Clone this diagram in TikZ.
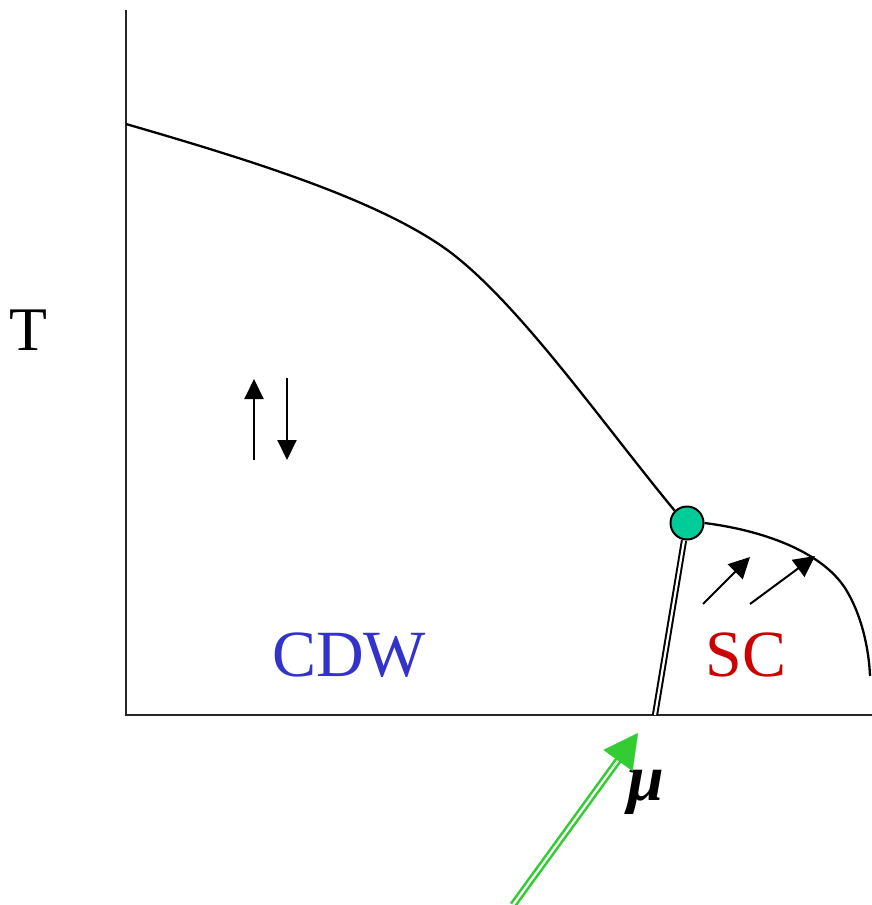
\documentclass[tikz,border=0pt]{standalone}
\usepackage{fontspec}
\setmainfont{Liberation Serif}
\usetikzlibrary{arrows.meta,calc}
\definecolor{cdwblue}{HTML}{3333CC}
\definecolor{scred}{HTML}{CC0000}
\definecolor{pointgreen}{HTML}{00CC99}
\definecolor{arrgreen}{HTML}{33CC33}
\tikzset{
  axis/.style={line width=2pt, draw=black!85},
  phase/.style={line width=2.3pt},
  spinarrow/.style={line width=2pt, -{Triangle[length=20pt,width=19pt]}},
  pairarrow/.style={line width=2pt, -{Triangle[length=21pt,width=21pt]}},
  lbl/.style={inner sep=0pt, font=\fontsize{66}{66}\selectfont},
}
\begin{document}
\begin{tikzpicture}[x=1pt,y=-1pt]
\useasboundingbox (0,0) rectangle (872,905);
% axes
\coordinate (ytop) at (126,10);
\coordinate (orig) at (126,715);
\coordinate (xend) at (872,715);
\draw[axis] (ytop) -- (orig) -- (xend);
% critical point
\node[circle, draw=black, line width=2pt, fill=pointgreen, minimum size=33pt, inner sep=0pt] (cp) at (687,523) {};
% CDW boundary
\coordinate (tcdw) at (126,124);
\draw[phase] (tcdw) .. controls (250,160) and (380,200) .. (450,252) .. controls (520,305) and (600,420) .. (cp.north west);
% SC boundary
\coordinate (scend) at (870,676);
\draw[phase] (cp.east) .. controls (760,530) and (820,550) .. (845,588) .. controls (862,615) and (869,650) .. (scend);
% first-order line (double)
\coordinate (fbot) at (655,715);
\draw[draw=black, line width=2pt, double=white, double distance=2.2pt] (cp.south) ++(-3,0) -- (fbot);
% spin arrows
\coordinate (u1) at (254,460); \coordinate (u2) at (254,379);
\coordinate (d1) at (287,378); \coordinate (d2) at (287,460);
\draw[spinarrow] (u1) -- (u2);
\draw[spinarrow] (d1) -- (d2);
% pair arrows
\coordinate (p1a) at (703,604); \coordinate (p1b) at (750,557);
\coordinate (p2a) at (750,604); \coordinate (p2b) at (815,556);
\draw[pairarrow] (p1a) -- (p1b);
\draw[pairarrow] (p2a) -- (p2b);
% labels
\node[lbl, font=\fontsize{62}{62}\selectfont] (T) at (28,330) {T};
\node[lbl, text=cdwblue] (cdw) at (349,655) {CDW};
\node[lbl, text=scred] (sc) at (746,655) {SC};
\node[inner sep=0pt, font=\fontsize{66}{66}\selectfont\bfseries\itshape] (mu) at (646,792) {μ};
% green arrow
\coordinate (gstart) at (513,905);
\coordinate (gtip) at (638,733);
\coordinate (gmid) at ($(gstart)!0.8!(gtip)$);
\draw[draw=arrgreen, line width=2.6pt, double=white, double distance=2.2pt, shorten >=26pt] (gstart) -- (gtip);
\draw[draw=arrgreen, line width=0.1pt, -{Triangle[length=34pt,width=36pt]}, arrgreen] (gmid) -- (gtip);
\end{tikzpicture}
\end{document}
